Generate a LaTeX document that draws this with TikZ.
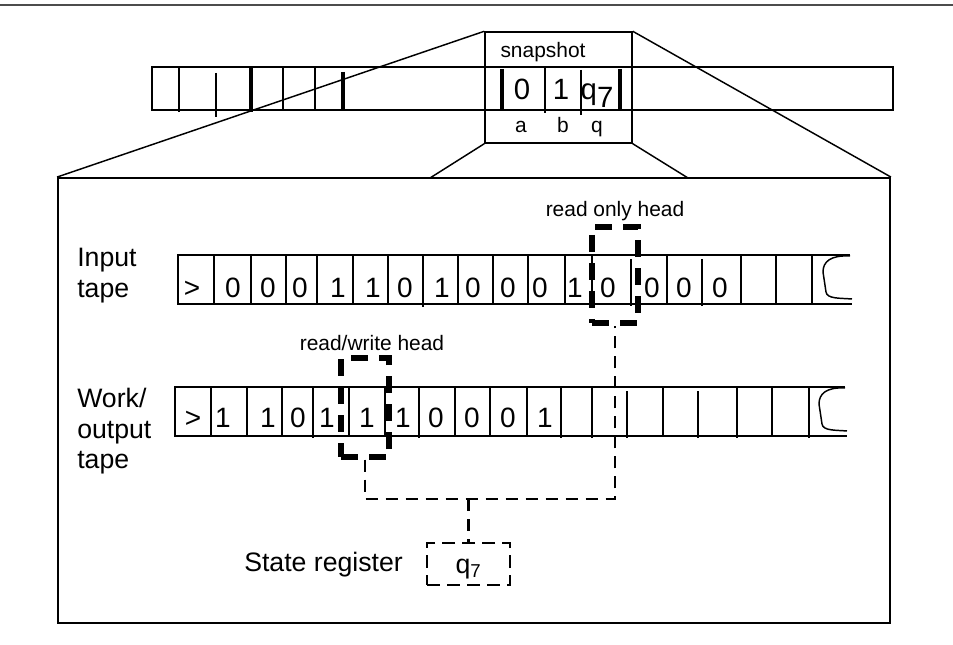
\documentclass[tikz,border=0pt]{standalone}
\usepackage{fontspec}
\setmainfont{Liberation Sans}
\usetikzlibrary{positioning,fit}
\tikzstyle{tapeline} = [line width=1.1pt]
\tikzstyle{thickbar} = [line width=3.2pt]
\tikzstyle{headbox} = [draw, line width=4pt, dash pattern=on 13pt off 8pt, inner sep=0pt]
\tikzstyle{conn} = [line width=2.2pt, dash pattern=on 9pt off 6pt]
\tikzstyle{sym} = [font=\fontsize{21}{24}\selectfont, inner sep=0pt, anchor=base]
\tikzstyle{lbl} = [font=\fontsize{20}{23}\selectfont, align=left, inner sep=0pt]
\tikzstyle{small} = [font=\fontsize{15.7}{18}\selectfont, inner sep=0pt]

\begin{document}
\begin{tikzpicture}[x=0.75pt,y=-0.75pt]
\useasboundingbox (0,0) rectangle (953,645);
\draw[line width=1.6pt, gray!60!black] (0,5) -- (953,5);
% tape seen from far
\draw[tapeline] (152,67) rectangle (893,110);
\draw[tapeline] (179,67) -- (179,112);
\draw[tapeline] (216,73) -- (216,117);
\draw[thickbar] (251,67) -- (251,112);
\draw[tapeline] (283,67) -- (283,110);
\draw[tapeline] (315,67) -- (315,110);
\draw[thickbar] (343,72) -- (343,110);
\draw[thickbar] (502,69) -- (502,110);
\draw[tapeline] (545,67) -- (545,113);
\draw[tapeline] (581,70) -- (581,115);
\draw[thickbar] (620,69) -- (620,110);
\node[draw, tapeline, inner sep=0pt, fit={(485,32) (632,143)}] (snap) {};
\node[small] (snaptitle) at (543,52) {snapshot};
\node[sym, font=\fontsize{22}{24}\selectfont] (sn0) at (522,100) {0};
\node[sym, font=\fontsize{22}{24}\selectfont] (sn1) at (561,100) {1};
\node[sym, font=\fontsize{22}{24}\selectfont] (snq) at (597,100) {q\raisebox{-6pt}{7}};
\node[small, anchor=base] (la) at (521,133) {a};
\node[small, anchor=base] (lb) at (563,133) {b};
\node[small, anchor=base] (lq) at (597,133) {q};
% zoomed in machine
\node[draw, line width=1.4pt, inner sep=0pt, fit={(58,178) (890,623)}] (frame) {};
\coordinate (fl) at (430,178);
\coordinate (fr) at (688,178);
\draw[tapeline] (snap.north west) -- (frame.north west);
\draw[tapeline] (snap.north east) -- (frame.north east);
\draw[tapeline] (snap.south west) -- (fl);
\draw[tapeline] (snap.south east) -- (fr);
% input tape
\node[lbl, anchor=north west] (inlabel) at (77,248) {Input\\tape};
\draw[tapeline] (850,255) -- (178,255) -- (178,304) -- (852,304);
\draw[tapeline] (850,256) .. controls (830,255) and (823,262) .. (823,272) -- (826,292) .. controls (827,299) and (840,298) .. (852,299);
\draw[tapeline] (214,255) -- (214,304);
\draw[tapeline] (251,255) -- (251,304);
\draw[tapeline] (286,255) -- (286,304);
\draw[tapeline] (317,255) -- (317,304);
\draw[tapeline] (353,255) -- (353,304);
\draw[tapeline] (388,255) -- (388,304);
\draw[tapeline] (423,255) -- (423,307);
\draw[tapeline] (458,255) -- (458,304);
\draw[tapeline] (493,255) -- (493,304);
\draw[tapeline] (528,255) -- (528,304);
\draw[tapeline] (565,255) -- (565,304);
\draw[tapeline] (592,255) -- (592,304);
\draw[tapeline] (631,259) -- (631,306);
\draw[tapeline] (667,255) -- (667,304);
\draw[tapeline] (702,259) -- (702,306);
\draw[tapeline] (741,255) -- (741,304);
\draw[tapeline] (776,255) -- (776,304);
\draw[tapeline] (812,255) -- (812,304);
\node[sym] (in1) at (192,298) {>};
\node[sym] (in2) at (233,298) {0};
\node[sym] (in3) at (268,298) {0};
\node[sym] (in4) at (300,298) {0};
\node[sym] (in5) at (338,298) {1};
\node[sym] (in6) at (373,298) {1};
\node[sym] (in7) at (405,298) {0};
\node[sym] (in8) at (442,298) {1};
\node[sym] (in9) at (473,298) {0};
\node[sym] (in10) at (508,298) {0};
\node[sym] (in11) at (540,298) {0};
\node[sym] (in12) at (575,298) {1};
\node[sym] (in13) at (608,298) {0};
\node[sym] (in14) at (652,298) {0};
\node[sym] (in15) at (684,298) {0};
\node[sym] (in16) at (720,298) {0};
\node[headbox, fit={(592,227) (638,323)}] (rohead) {};
\node[small] (rolabel) at (615,211) {read only head};
% work tape
\node[lbl, anchor=north west] (wklabel) at (77,388) {Work/\\output\\tape};
\draw[tapeline] (845,387) -- (175,387) -- (175,436) -- (847,436);
\draw[tapeline] (845,388) .. controls (826,387) and (819,394) .. (819,404) -- (822,424) .. controls (823,431) and (836,430) .. (847,431);
\draw[tapeline] (211,387) -- (211,436);
\draw[tapeline] (247,387) -- (247,436);
\draw[tapeline] (282,387) -- (282,436);
\draw[tapeline] (313,387) -- (313,438);
\draw[tapeline] (349,387) -- (349,436);
\draw[tapeline] (385,387) -- (385,436);
\draw[tapeline] (419,387) -- (419,438);
\draw[tapeline] (455,387) -- (455,436);
\draw[tapeline] (490,387) -- (490,436);
\draw[tapeline] (527,387) -- (527,436);
\draw[tapeline] (561,387) -- (561,438);
\draw[tapeline] (592,387) -- (592,438);
\draw[tapeline] (627,391) -- (627,438);
\draw[tapeline] (663,387) -- (663,436);
\draw[tapeline] (698,391) -- (698,438);
\draw[tapeline] (737,387) -- (737,438);
\draw[tapeline] (772,387) -- (772,436);
\draw[tapeline] (809,387) -- (809,438);
\node[sym] (wk1) at (193,427) {>};
\node[sym] (wk2) at (223,427) {1};
\node[sym] (wk3) at (268,427) {1};
\node[sym] (wk4) at (298,427) {0};
\node[sym] (wk5) at (327,427) {1};
\node[sym] (wk6) at (367,427) {1};
\node[sym] (wk7) at (403,427) {1};
\node[sym] (wk8) at (436,427) {0};
\node[sym] (wk9) at (472,427) {0};
\node[sym] (wk10) at (508,427) {0};
\node[sym] (wk11) at (545,427) {1};
\node[headbox, fit={(341,358) (389,457)}] (rwhead) {};
\node[small] (rwlabel) at (372,343) {read/write head};
% state register
\node[lbl, anchor=base west] (stlabel) at (244,571) {State register};
\node[draw, line width=2pt, dash pattern=on 10pt off 5pt, inner sep=0pt, fit={(427,543) (510,585)}] (state) {};
\node[lbl, anchor=base] (stq) at (468.5,573) {q\textsubscript{7}};
\coordinate (jn) at (468.5,499);
\draw[conn] (rwhead.south) |- (jn) -| (rohead.south);
\draw[conn] (jn) -- (state.north);
\end{tikzpicture}
\end{document}
